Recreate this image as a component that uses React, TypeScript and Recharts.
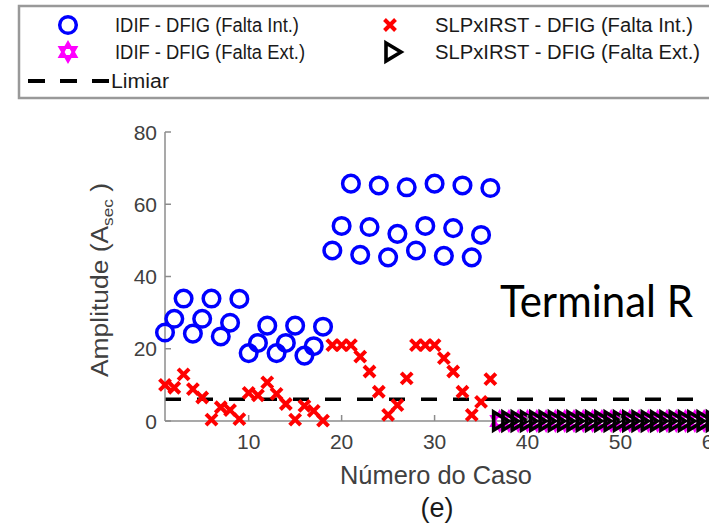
import { ReferenceLine, Scatter, ScatterChart, XAxis, YAxis } from "recharts";

// Amplitude (A_sec) per case, cases 1..36 are internal faults, 37..72 external
const idifInterna = [
  24.5, 28.3, 33.9, 24.2, 28.3, 33.9, 23.4, 27.2, 33.8, 18.8, 21.6, 26.4, 18.8, 21.6, 26.4, 18.1, 20.7, 26.1,
  47.2, 54.0, 65.7, 46.0, 53.7, 65.2, 45.3, 51.8, 64.7, 47.2, 54.0, 65.7, 45.7, 53.4, 65.2, 45.3, 51.5, 64.5,
];
const slpInterna = [
  10.0, 9.2, 12.9, 8.8, 6.5, 0.4, 3.8, 3.0, 0.5, 7.8, 7.1, 10.7, 7.5, 4.7, 0.4, 4.2, 2.8, 0.1,
  21.0, 21.0, 21.0, 17.8, 13.7, 8.1, 1.7, 4.4, 11.8, 21.0, 21.0, 21.0, 17.4, 13.7, 8.1, 1.7, 5.3, 11.6,
];
const idifExterna = [
  0, 0, 0, 0, 0, 0, 0, 0, 0, 0, 0, 0, 0, 0, 0, 0, 0, 0,
  0, 0, 0, 0, 0, 0, 0, 0, 0, 0, 0, 0, 0, 0, 0, 0, 0, 0,
];
const slpExterna = [
  0, 0, 0, 0, 0, 0, 0, 0, 0, 0, 0, 0, 0, 0, 0, 0, 0, 0,
  0, 0, 0, 0, 0, 0, 0, 0, 0, 0, 0, 0, 0, 0, 0, 0, 0, 0,
];
const LIMIAR = 6;
const xTicks = [10, 20, 30, 40, 50, 60, 70];
const yTicks = [0, 20, 40, 60, 80];

const AXIS = "#8c8c8c";
const TXT = "#404040";
const FONT = "'Liberation Sans', Arial, sans-serif";

const internos = (vals: number[]) => vals.map((valor, i) => ({ caso: i + 1, valor }));
const externos = (vals: number[]) => vals.map((valor, i) => ({ caso: i + 37, valor }));

function Circulo({ cx, cy }: any) {
  return <circle cx={cx} cy={cy} r={8.3} fill="none" stroke="#0000ff" strokeWidth={3.5} />;
}

function Xis({ cx, cy }: any) {
  const s = 5.5;
  return (
    <path
      d={`M${cx - s},${cy - s}L${cx + s},${cy + s}M${cx - s},${cy + s}L${cx + s},${cy - s}`}
      stroke="#ff0000"
      strokeWidth={4}
    />
  );
}

function Triangulo({ cx, cy }: any) {
  return (
    <polygon
      points={`${cx - 6},${cy - 9} ${cx + 9},${cy} ${cx - 6},${cy + 9}`}
      fill="none"
      stroke="#000"
      strokeWidth={3.6}
    />
  );
}

function Hexagrama({ cx, cy }: any) {
  const r = 9;
  const dx = r * 0.866;
  const dy = r / 2;
  return (
    <g fill="none" stroke="#ff00ff" strokeWidth={3}>
      <polygon points={`${cx},${cy - r} ${cx + dx},${cy + dy} ${cx - dx},${cy + dy}`} />
      <polygon points={`${cx},${cy + r} ${cx + dx},${cy - dy} ${cx - dx},${cy - dy}`} />
    </g>
  );
}

function TickX({ x, y, payload }: any) {
  return (
    <g>
      <line x1={x} y1={y} x2={x} y2={y - 6} stroke={AXIS} strokeWidth={1.5} />
      <text x={x} y={y + 28} textAnchor="middle" fontSize={21} fontFamily={FONT} fill={TXT}>
        {payload.value}
      </text>
    </g>
  );
}

function TickY({ x, y, payload }: any) {
  return (
    <g>
      <line x1={x} y1={y} x2={x + 6} y2={y} stroke={AXIS} strokeWidth={1.5} />
      <text x={x - 8} y={y + 7.5} textAnchor="end" fontSize={21} fontFamily={FONT} fill={TXT}>
        {payload.value}
      </text>
    </g>
  );
}

function Legenda() {
  const rows = [25, 52, 81];
  const texto = (x: number, y: number, s: string, len: number) => (
    <text x={x} y={y + 7} fontSize={20} fontFamily={FONT} fill="#1a1a1a" textLength={len} lengthAdjust="spacingAndGlyphs">
      {s}
    </text>
  );
  return (
    <g>
      <rect x={19} y={6} width={720} height={92} fill="#fff" stroke="#999" strokeWidth={2.5} />
      <Circulo cx={68} cy={rows[0]} />
      {texto(115, rows[0], "IDIF - DFIG (Falta Int.)", 184)}
      <Xis cx={390} cy={rows[0]} />
      {texto(435, rows[0], "SLPxIRST - DFIG (Falta Int.)", 258)}
      <Hexagrama cx={68} cy={rows[1]} />
      {texto(115, rows[1], "IDIF - DFIG (Falta Ext.)", 190)}
      <Triangulo cx={392} cy={rows[1]} />
      {texto(435, rows[1], "SLPxIRST - DFIG (Falta Ext.)", 265)}
      <line x1={28} y1={rows[2]} x2={110} y2={rows[2]} stroke="#000" strokeWidth={4} strokeDasharray="17 15" />
      {texto(111, rows[2], "Limiar", 58)}
    </g>
  );
}

export default function App() {
  return (
    <div
      style={{
        position: "absolute",
        left: 0,
        top: 0,
        width: 709,
        height: 524,
        overflow: "hidden",
        background: "#fff",
      }}
    >
      <ScatterChart width={840} height={524} margin={{ top: 132, right: 15, bottom: 0, left: 0 }}>
        <XAxis
          type="number"
          dataKey="caso"
          domain={[1, 72]}
          ticks={xTicks}
          interval={0}
          height={103}
          tickSize={0}
          tickMargin={0}
          tickLine={false}
          axisLine={{ stroke: AXIS, strokeWidth: 1.5 }}
          tick={<TickX />}
        />
        <YAxis
          type="number"
          dataKey="valor"
          domain={[0, 80]}
          ticks={yTicks}
          interval={0}
          width={165}
          tickSize={0}
          tickMargin={0}
          tickLine={false}
          axisLine={{ stroke: AXIS, strokeWidth: 1.5 }}
          tick={<TickY />}
        />
        <Scatter name="IDIF - DFIG (Falta Int.)" data={internos(idifInterna)} shape={<Circulo />} isAnimationActive={false} />
        <Scatter name="SLPxIRST - DFIG (Falta Int.)" data={internos(slpInterna)} shape={<Xis />} isAnimationActive={false} />
        <Scatter name="IDIF - DFIG (Falta Ext.)" data={externos(idifExterna)} shape={<Hexagrama />} isAnimationActive={false} />
        <Scatter name="SLPxIRST - DFIG (Falta Ext.)" data={externos(slpExterna)} shape={<Triangulo />} isAnimationActive={false} />
        <ReferenceLine y={LIMIAR} stroke="#000" strokeWidth={3.5} strokeDasharray="16 16" />
      </ScatterChart>

      <svg
        width={709}
        height={524}
        style={{ position: "absolute", left: 0, top: 0, pointerEvents: "none" }}
      >
        <Legenda />
        <text
          transform="translate(108,280) rotate(-90)"
          textAnchor="middle"
          fontSize={23}
          fontFamily={FONT}
          fill={TXT}
          textLength={194}
          lengthAdjust="spacingAndGlyphs"
        >
          Amplitude (A
          <tspan fontSize={15} dy={5}>sec</tspan>
          <tspan dy={-5}> )</tspan>
        </text>
        <text x={436} y={484} textAnchor="middle" fontSize={25} fontFamily={FONT} fill={TXT} textLength={192} lengthAdjust="spacingAndGlyphs">
          Número do Caso
        </text>
        <text x={437} y={517} textAnchor="middle" fontSize={27} fontFamily={FONT} fill="#1a1a1a">
          (e)
        </text>
        <text x={500} y={317} fontSize={45} fontFamily="Lato, 'Open Sans', sans-serif" fill="#000" textLength={193} lengthAdjust="spacingAndGlyphs">
          Terminal R
        </text>
      </svg>
    </div>
  );
}
